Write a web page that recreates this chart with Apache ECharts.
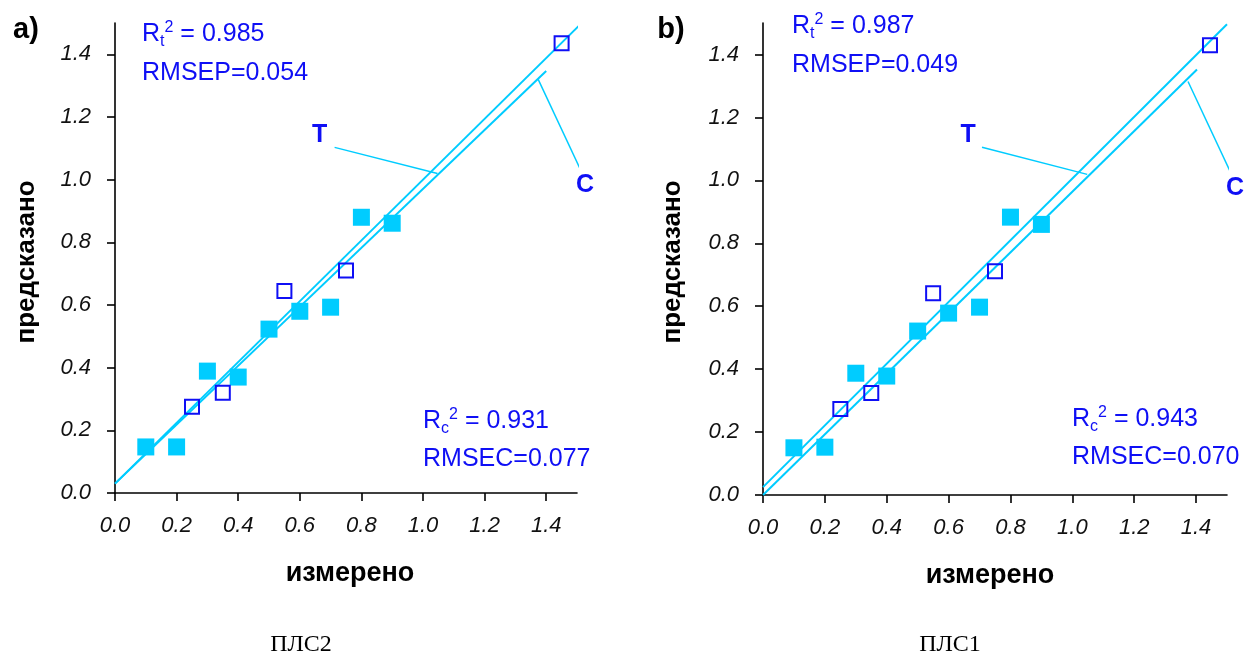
<!DOCTYPE html>
<html>
<head>
<meta charset="utf-8">
<script src="https://cdn.jsdelivr.net/npm/echarts@6/dist/echarts.min.js"></script>
<style>
html,body{margin:0;padding:0;background:#fff;}
#c{width:1248px;height:657px;}
</style>
</head>
<body>
<div id="c"></div>
<script>
// ---- data ----
const tickValues = [0, 0.2, 0.4, 0.6, 0.8, 1.0, 1.2, 1.4];

// Panel a (ПЛС2)
const calibA = [[0.1,0.147],[0.2,0.147],[0.3,0.389],[0.4,0.37],[0.5,0.523],[0.6,0.58],[0.7,0.593],[0.8,0.88],[0.9,0.861]];
const testA  = [[0.25,0.275],[0.35,0.32],[0.55,0.645],[0.75,0.71],[1.45,1.435]];
const lineTA = [[0,0.03],[1.505,1.49]];
const lineCA = [[0,0.03],[1.40,1.347]];
const leaderTA = [[0.713,1.103],[1.047,1.020]];
const leaderCA = [[1.374,1.320],[1.517,1.020]];
const labelsA = [[0.664,1.142,'T'],[1.526,0.982,'C']];
const statsA = {rt2:'0.985', rmsep:'0.054', rc2:'0.931', rmsec:'0.077'};

// Panel b (ПЛС1)
const calibB = [[0.1,0.15],[0.2,0.152],[0.3,0.387],[0.4,0.378],[0.5,0.521],[0.6,0.578],[0.7,0.597],[0.8,0.883],[0.9,0.86]];
const testB  = [[0.25,0.273],[0.35,0.324],[0.55,0.641],[0.75,0.711],[1.445,1.429]];
const lineTB = [[0,0.025],[1.5,1.496]];
const lineCB = [[0,0],[1.403,1.352]];
const leaderTB = [[0.708,1.105],[1.048,1.019]];
const leaderCB = [[1.374,1.314],[1.516,1.016]];
const labelsB = [[0.663,1.143,'T'],[1.526,0.975,'C']];
const statsB = {rt2:'0.987', rmsep:'0.049', rc2:'0.943', rmsec:'0.070'};

const xName = 'измерено';
const yName = 'предсказано';
const panelTags = ['a)','b)'];
const captions = ['ПЛС2','ПЛС1'];

// ---- styles ----
const CYAN = '#00ccff';
const BLUE = '#0f0ff5';
const SANS = '"Liberation Sans", Arial, sans-serif';

const grids = [
  {left:115, top:23, width:462, height:470},
  {left:763, top:23, width:464, height:472}
];

function mkAxis(gi, isX){
  return {
    type:'value', gridIndex:gi, min:0, max:1.5, interval:0.2,
    axisLine:{show:true, onZero:false, lineStyle:{color:'#000', width:1.6}},
    axisTick:{show:true, inside:false, length:8, lineStyle:{color:'#000', width:1.6}, customValues:tickValues},
    axisLabel:{show:true, margin:isX ? 22 : 24, customValues:tickValues, formatter:v=>v.toFixed(1),
      fontFamily:SANS, fontStyle:'italic', fontSize:22, color:'#111'},
    splitLine:{show:false}
  };
}

const xAxes = [0,1].map(i=>mkAxis(i, true));
const yAxes = [0,1].map(i=>mkAxis(i, false));

function panelSeries(gi, calib, test, lT, lC, ldT, ldC, labels){
  const base = {xAxisIndex:gi, yAxisIndex:gi};
  const lineS = (d)=>Object.assign({type:'line', data:d, showSymbol:false, symbol:'none', clip:false,
      lineStyle:{color:CYAN, width:2, opacity:1}, silent:true, z:2}, base);
  const leadS = (d)=>Object.assign({type:'line', data:d, showSymbol:false, symbol:'none', clip:false,
      lineStyle:{color:CYAN, width:1.5, opacity:1}, silent:true, z:2}, base);
  return [
    lineS(lT), lineS(lC), leadS(ldT), leadS(ldC),
    Object.assign({type:'scatter', data:calib, symbol:'rect', symbolSize:17, clip:false,
      itemStyle:{color:CYAN, opacity:1}, z:3}, base),
    Object.assign({type:'scatter', data:test, symbol:'rect', symbolSize:14, clip:false,
      itemStyle:{color:'rgba(0,0,0,0)', borderColor:BLUE, borderWidth:2, opacity:1}, z:4}, base),
    Object.assign({type:'scatter', data:labels, symbolSize:0, clip:false, z:5,
      itemStyle:{opacity:1},
      label:{show:true, position:'inside', formatter:p=>p.data[2], fontFamily:SANS, fontWeight:'bold', fontSize:25, color:BLUE, opacity:1}}, base)
  ];
}

const series = [
  ...panelSeries(0, calibA, testA, lineTA, lineCA, leaderTA, leaderCA, labelsA),
  ...panelSeries(1, calibB, testB, lineTB, lineCB, leaderTB, leaderCB, labelsB)
];

// ---- text annotations ----
const richStyle = {
  r:{fontSize:25, lineHeight:30, fontFamily:SANS, fill:BLUE},
  s:{fontSize:16, lineHeight:16, fontFamily:SANS, fill:BLUE, verticalAlign:'bottom'},
  p:{fontSize:16, lineHeight:20, fontFamily:SANS, fill:BLUE, verticalAlign:'top'}
};
function statText(x, baseline, text){
  return {type:'text', x:x, y:baseline-23.7, z:10, silent:true,
    style:{text:text, rich:richStyle, align:'left', verticalAlign:'top', fill:BLUE, fontSize:25, fontFamily:SANS}};
}
function statsBlock(st, xt, yt, xc, yc){
  return [
    statText(xt, yt, '{r|R}{s|t}{p|2}{r| = '+st.rt2+'}'),
    statText(xt, yt+39, '{r|RMSEP='+st.rmsep+'}'),
    statText(xc, yc, '{r|R}{s|c}{p|2}{r| = '+st.rc2+'}'),
    statText(xc, yc+38, '{r|RMSEC='+st.rmsec+'}')
  ];
}
function plainText(x, y, text, font, extra){
  return Object.assign({type:'text', x:x, y:y, z:10, silent:true,
    style:{text:text, align:'center', verticalAlign:'middle', fill:'#000', font:font}}, extra||{});
}

const graphic = [
  ...statsBlock(statsA, 142, 43, 423, 430),
  ...statsBlock(statsB, 792, 35, 1072, 428),
  plainText(26, 30, panelTags[0], 'bold 29px '+SANS),
  plainText(671, 30, panelTags[1], 'bold 29px '+SANS),
  plainText(27, 262, yName, 'bold 26px '+SANS, {rotation:Math.PI/2}),
  plainText(673, 262, yName, 'bold 26px '+SANS, {rotation:Math.PI/2}),
  plainText(350, 574, xName, 'bold 27px '+SANS),
  plainText(990, 576, xName, 'bold 27px '+SANS),
  plainText(301, 645, captions[0], '24px "Liberation Serif", "Times New Roman", serif'),
  plainText(950, 645, captions[1], '24px "Liberation Serif", "Times New Roman", serif')
];

const chart = echarts.init(document.getElementById('c'), null, {renderer:'canvas'});
chart.setOption({
  animation:false,
  backgroundColor:'#fff',
  grid:grids,
  xAxis:xAxes,
  yAxis:yAxes,
  series:series,
  graphic:graphic
});
</script>
</body>
</html>
